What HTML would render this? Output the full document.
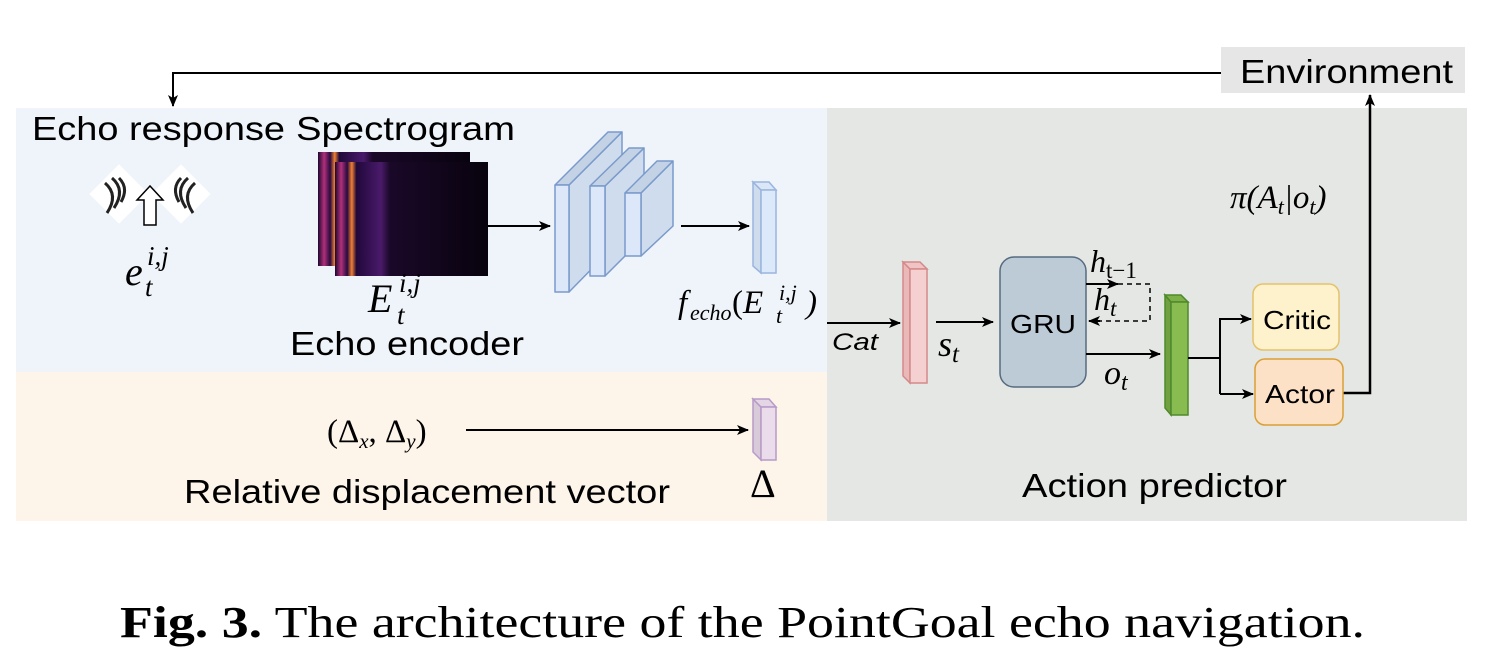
<!DOCTYPE html>
<html><head><meta charset="utf-8"><style>
html,body{margin:0;padding:0;background:#fff;}
svg{display:block}
.s{font-family:"Liberation Sans",sans-serif;}
.m{font-family:"Liberation Serif",serif;font-style:italic;}
</style></head><body>
<svg width="1496" height="666" viewBox="0 0 1496 666" xmlns="http://www.w3.org/2000/svg">
<defs>
<marker id="a" markerWidth="12" markerHeight="10" refX="11" refY="5" orient="auto" markerUnits="userSpaceOnUse"><path d="M0,0 L12,5 L0,10 L3,5 Z" fill="#000"/></marker>
<linearGradient id="sp" x1="0" x2="1" y1="0" y2="0">
<stop offset="0" stop-color="#1a0830"/><stop offset="0.04" stop-color="#b0307a"/><stop offset="0.08" stop-color="#2a0a40"/><stop offset="0.11" stop-color="#f08030"/><stop offset="0.14" stop-color="#20083a"/><stop offset="0.3" stop-color="#4a1a6a"/><stop offset="0.36" stop-color="#1a0828"/><stop offset="1" stop-color="#08030e"/></linearGradient>
</defs>
<rect x="16" y="108" width="811" height="264" fill="#eff3fa"/>
<rect x="16" y="372" width="811" height="149" fill="#fdf4ea"/>
<rect x="827" y="108" width="640" height="413" fill="#e5e7e4"/>
<rect x="1221" y="47" width="244" height="46" fill="#e6e6e6"/>
<text x="1240" y="83" class="s" font-size="33" textLength="213" lengthAdjust="spacingAndGlyphs">Environment</text>
<polyline points="1221,73 173,73 173,106" fill="none" stroke="#000" stroke-width="2" marker-end="url(#a)"/>
<polyline points="1343,393 1370,393 1370,95" fill="none" stroke="#000" stroke-width="2.5" marker-end="url(#a)"/>
<text x="1230" y="208" class="m" font-size="33">π(A<tspan font-size="22" dy="6">t</tspan><tspan dy="-6">|o</tspan><tspan font-size="22" dy="6">t</tspan><tspan dy="-6">)</tspan></text>
<text x="32" y="140" class="s" font-size="33" textLength="253" lengthAdjust="spacingAndGlyphs">Echo response</text>
<text x="296" y="140" class="s" font-size="33" textLength="219" lengthAdjust="spacingAndGlyphs">Spectrogram</text>
<g>
<rect x="98" y="173" width="42" height="42" fill="#fff" transform="rotate(45 119 194)"/>
<rect x="160" y="173" width="42" height="42" fill="#fff" transform="rotate(45 181 194)"/>
<g fill="none" stroke="#222" stroke-width="3">
<path d="M112,178 Q126,190 114,208"/><path d="M105,183 Q119,195 107,213"/><path d="M119,178 Q129,188 121,202"/>
<path d="M188,178 Q174,190 186,208"/><path d="M195,183 Q181,195 193,213"/><path d="M181,178 Q171,188 179,202"/>
</g>
<path d="M150,186 L137,200 L144,200 L144,225 L156,225 L156,200 L163,200 Z" fill="#fff" stroke="#000" stroke-width="1.5"/>
</g>
<text x="125" y="285" class="m" font-size="40">e</text>
<text x="145" y="296" class="m" font-size="27">t</text>
<text x="147" y="265" class="m" font-size="27">i,j</text>
<rect x="318" y="152" width="152" height="114" fill="url(#sp)"/>
<rect x="335" y="162" width="153" height="114" fill="url(#sp)"/>
<text x="368" y="312" class="m" font-size="40">E</text>
<text x="397" y="324" class="m" font-size="27">t</text>
<text x="399" y="292" class="m" font-size="27">i,j</text>
<text x="290" y="355" class="s" font-size="33" textLength="234" lengthAdjust="spacingAndGlyphs">Echo encoder</text>
<line x1="488" y1="226" x2="550" y2="226" stroke="#000" stroke-width="2" marker-end="url(#a)"/>
<g stroke="#7a9acb" stroke-width="1.5" stroke-linejoin="round">
<path d="M569,185 L622,132 L622,238 L569,292 Z" fill="#cfdcee"/>
<path d="M555,185 L608,132 L622,132 L569,185 Z" fill="#c4d2e6"/>
<rect x="555" y="185" width="14" height="107" fill="#dce8fa"/>
<path d="M605,186 L644,148 L644,237 L605,276 Z" fill="#cfdcee"/>
<path d="M590,186 L629,148 L644,148 L605,186 Z" fill="#c4d2e6"/>
<rect x="590" y="186" width="15" height="90" fill="#dce8fa"/>
<path d="M641,193 L673,161 L673,226 L641,256 Z" fill="#cfdcee"/>
<path d="M625,193 L657,161 L673,161 L641,193 Z" fill="#c4d2e6"/>
<rect x="625" y="193" width="16" height="63" fill="#dce8fa"/>
</g>
<line x1="681" y1="226" x2="749" y2="226" stroke="#000" stroke-width="2" marker-end="url(#a)"/>
<g stroke="#9ab5dd" stroke-width="1.5">
<path d="M753,182 L761,190 L761,273 L753,266 Z" fill="#cfdcee"/>
<path d="M753,182 L769,182 L776,190 L761,190 Z" fill="#dbe6f6"/>
<rect x="761" y="190" width="15" height="83" fill="#dce9fb"/>
</g>
<text x="678" y="313" class="m" font-size="33">f</text>
<text x="690" y="320" class="m" font-size="22">echo</text>
<text x="732" y="313" class="m" font-size="33"><tspan font-style="normal">(</tspan>E</text>
<text x="776" y="323" class="m" font-size="22">t</text>
<text x="779" y="300" class="m" font-size="22">i,j</text>
<text x="806" y="313" class="m" font-size="33" font-style="normal">)</text>
<text x="327" y="442" class="m" font-size="33"><tspan font-style="normal">(Δ</tspan><tspan font-size="21" dy="6">x</tspan><tspan dy="-6" font-style="normal">, Δ</tspan><tspan font-size="21" dy="6">y</tspan><tspan dy="-6" font-style="normal">)</tspan></text>
<line x1="466" y1="430" x2="748" y2="430" stroke="#000" stroke-width="2" marker-end="url(#a)"/>
<g stroke="#b79ac8" stroke-width="1.5">
<path d="M753,399 L761,407 L761,460 L753,452 Z" fill="#d8cad8"/>
<path d="M753,399 L769,399 L776,407 L761,407 Z" fill="#e4d6e4"/>
<rect x="761" y="407" width="15" height="53" fill="#eadcea"/>
</g>
<text x="750" y="497" font-family="Liberation Serif,serif" font-size="40">Δ</text>
<text x="184" y="503" class="s" font-size="33" textLength="486" lengthAdjust="spacingAndGlyphs">Relative displacement vector</text>
<line x1="827" y1="323" x2="900" y2="323" stroke="#000" stroke-width="2" marker-end="url(#a)"/>
<text x="832" y="350" class="s" font-size="24" font-style="italic" textLength="46" lengthAdjust="spacingAndGlyphs">Cat</text>
<g stroke="#d48a8a" stroke-width="1.5">
<path d="M903,262 L910,269 L910,383 L903,376 Z" fill="#eab8b8"/>
<path d="M903,262 L920,262 L927,269 L910,269 Z" fill="#f0c4c4"/>
<rect x="910" y="269" width="17" height="114" fill="#f4d0d0"/>
</g>
<line x1="936" y1="322" x2="993" y2="322" stroke="#000" stroke-width="2" marker-end="url(#a)"/>
<text x="938" y="356" class="m" font-size="36">s<tspan font-size="25" dy="6">t</tspan></text>
<rect x="1000" y="257" width="86" height="130" rx="14" fill="#bccbd6" stroke="#566b80" stroke-width="1.5"/>
<text x="1043" y="333" class="s" font-size="26" text-anchor="middle" textLength="66" lengthAdjust="spacingAndGlyphs">GRU</text>
<polyline points="1118,284 1150,284 1150,321 1100,321" fill="none" stroke="#000" stroke-width="1.5" stroke-dasharray="5,4"/>
<line x1="1086" y1="284" x2="1118" y2="284" stroke="#000" stroke-width="2" marker-end="url(#a)"/>
<line x1="1100" y1="321" x2="1089" y2="321" stroke="#000" stroke-width="2" marker-end="url(#a)"/>
<text x="1090" y="272" class="m" font-size="32">h<tspan font-size="23" dy="6" font-style="normal">t−1</tspan></text>
<text x="1094" y="310" class="m" font-size="32">h<tspan font-size="23" dy="6">t</tspan></text>
<line x1="1086" y1="354" x2="1160" y2="354" stroke="#000" stroke-width="2" marker-end="url(#a)"/>
<text x="1104" y="384" class="m" font-size="34">o<tspan font-size="24" dy="6">t</tspan></text>
<g stroke="#4f8a2a" stroke-width="1.5">
<path d="M1165,295 L1171,302 L1171,415 L1165,408 Z" fill="#70a040"/>
<path d="M1165,295 L1181,295 L1188,302 L1171,302 Z" fill="#7eb04a"/>
<rect x="1171" y="302" width="17" height="113" fill="#88bb50"/>
</g>
<polyline points="1188,358 1220,358" fill="none" stroke="#000" stroke-width="2"/>
<polyline points="1220,318 1220,394" fill="none" stroke="#000" stroke-width="2"/>
<line x1="1220" y1="319" x2="1251" y2="319" stroke="#000" stroke-width="2" marker-end="url(#a)"/>
<line x1="1220" y1="394" x2="1253" y2="394" stroke="#000" stroke-width="2" marker-end="url(#a)"/>
<rect x="1253" y="284" width="86" height="66" rx="10" fill="#fef2cc" stroke="#e3c26a" stroke-width="1.5"/>
<text x="1263" y="329" class="s" font-size="26" textLength="68" lengthAdjust="spacingAndGlyphs">Critic</text>
<rect x="1255" y="359" width="88" height="66" rx="10" fill="#fde1c6" stroke="#d9a035" stroke-width="1.5"/>
<text x="1265" y="403" class="s" font-size="26" textLength="70" lengthAdjust="spacingAndGlyphs">Actor</text>
<text x="1022" y="497" class="s" font-size="33" textLength="265" lengthAdjust="spacingAndGlyphs">Action predictor</text>
<text x="120" y="637" font-family="Liberation Serif,serif" font-size="44" textLength="1245" lengthAdjust="spacingAndGlyphs"><tspan font-weight="bold">Fig. 3.</tspan> The architecture of the PointGoal echo navigation.</text>
</svg>
</body></html>
